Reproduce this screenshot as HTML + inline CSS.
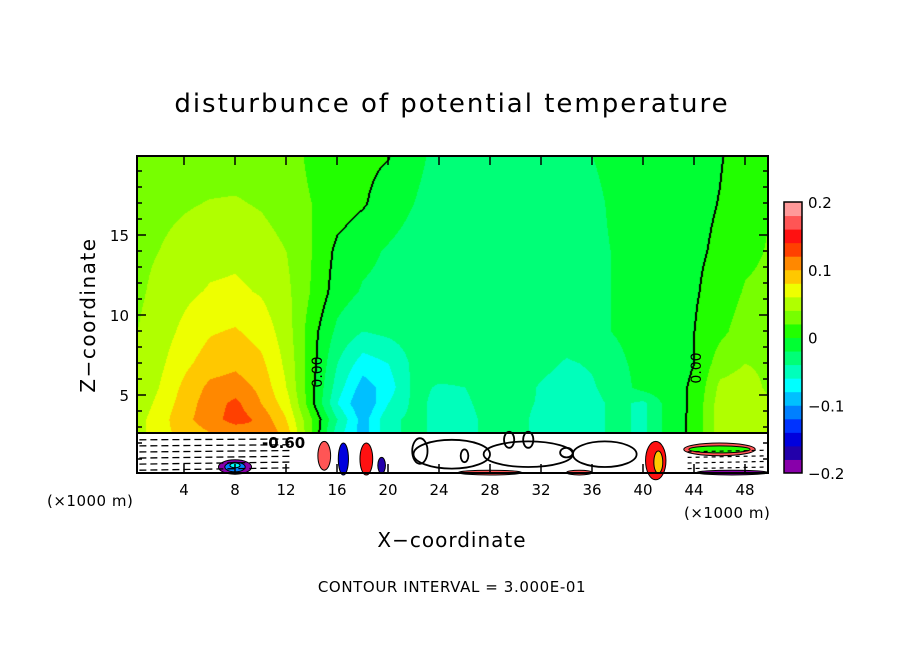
<!DOCTYPE html>
<html><head><meta charset="utf-8">
<style>
html,body{margin:0;padding:0;background:#fff;}
#wrap{position:relative;width:904px;height:654px;overflow:hidden;font-family:"DejaVu Sans","Liberation Sans",sans-serif;}
canvas{position:absolute;left:0;top:0;}
svg{position:absolute;left:0;top:0;}
</style></head>
<body>
<div id="wrap">
<canvas id="cv" width="904" height="654"></canvas>
<svg id="sv" width="904" height="654">
<text x="452" y="112" text-anchor="middle" font-size="26" letter-spacing="2">disturbunce of potential temperature</text>
<text x="452" y="547" text-anchor="middle" font-size="20" letter-spacing="1">X−coordinate</text>
<text transform="translate(95,315) rotate(-90)" text-anchor="middle" font-size="20" letter-spacing="1.5">Z−coordinate</text>
<text x="47" y="506" font-size="15" letter-spacing="0.5">(×1000 m)</text>
<text x="684" y="518" font-size="15" letter-spacing="0.5">(×1000 m)</text>
<text x="452" y="592" text-anchor="middle" font-size="15" letter-spacing="0.6">CONTOUR INTERVAL = 3.000E-01</text>
<g id="bottom"></g>
<g id="ticks"></g>
<g id="cbar"></g>
<text transform="translate(322,372) rotate(-90)" font-size="14" text-anchor="middle">0.00</text>
<text transform="translate(701,368) rotate(-90)" font-size="14" text-anchor="middle">0.00</text>
<text x="262" y="448" font-size="15" font-weight="bold">-0.60</text>
<rect x="137" y="156" width="631" height="317" fill="none" stroke="#000" stroke-width="2"></rect>
</svg>
</div>
<script>
// ---- data ----
const xCols = [0,2,4,6,8,10,12,14,16,18,20,22,24,26,28,30,32,34,36,38,40,42,44,46,48,50];
const zRows = [2.7,3.5,4.5,5.5,7,9,11.5,14,17,20];
const row_z2_7 = [.05,.07,.09,.10,.105,.12,.09,.02,-.05,-.09,-.045,-.035,-.045,-.045,-.035,-.035,-.045,-.055,-.045,-.035,-.045,-.01,.005,.05,.06,.045];
const row_z3_5 = [.05,.07,.095,.11,.13,.115,.08,.02,-.04,-.09,-.045,-.035,-.045,-.045,-.035,-.035,-.045,-.055,-.045,-.035,-.045,-.01,.005,.05,.06,.045];
const row_z4_5 = [.045,.065,.09,.11,.125,.10,.07,.005,-.06,-.10,-.06,-.035,-.045,-.042,-.035,-.035,-.042,-.05,-.045,-.035,-.045,-.01,.004,.05,.06,.04];
const row_z5_5 = [.04,.06,.085,.105,.11,.095,.06,.005,-.05,-.09,-.07,-.035,-.042,-.04,-.035,-.032,-.042,-.048,-.042,-.03,-.012,-.005,.002,.045,.05,.035];
const row_z7 = [.04,.055,.075,.09,.095,.085,.055,.008,-.04,-.07,-.06,-.035,-.03,-.032,-.03,-.03,-.035,-.042,-.038,-.025,-.012,-.005,.0,.03,.04,.035];
const row_z9 = [.038,.05,.065,.078,.082,.072,.05,.008,-.025,-.04,-.035,-.03,-.03,-.03,-.03,-.03,-.03,-.03,-.025,-.018,-.01,-.005,.0,.015,.03,.03];
const row_z11_5 = [.035,.045,.055,.062,.064,.058,.045,.018,-.01,-.022,-.025,-.028,-.03,-.03,-.03,-.03,-.03,-.03,-.025,-.018,-.01,-.006,-.002,.008,.022,.025];
const row_z14 = [.035,.04,.047,.053,.055,.05,.04,.02,-.005,-.015,-.022,-.028,-.03,-.03,-.03,-.03,-.03,-.03,-.025,-.018,-.01,-.006,-.003,.003,.015,.022];
const row_z17 = [.03,.035,.038,.041,.042,.038,.03,.02,.01,.002,-.01,-.02,-.028,-.03,-.03,-.03,-.03,-.03,-.025,-.015,-.01,-.006,-.004,.0005,.01,.02];
const row_z20 = [.03,.03,.03,.03,.03,.03,.03,.015,.01,.005,.001,-.015,-.025,-.03,-.03,-.03,-.03,-.025,-.02,-.012,-.008,-.006,-.004,-.001,.006,.015];
const field = [row_z2_7,row_z3_5,row_z4_5,row_z5_5,row_z7,row_z9,row_z11_5,row_z14,row_z17,row_z20];
const levelColors = ["#8800aa","#2200aa","#0000dd","#0033ff","#0080ff","#00c0ff","#00ffff","#00ffbb","#00ff77","#00ff33","#22ff00","#77ff00","#b0ff00","#eeff00","#ffc800","#ff8800","#ff4000","#ff1111","#ff5555","#ff9999"];
const cbarTicks = [0.2,0.1,0,-0.1,-0.2];
const cbarTickLabels = ["0.2","0.1","0","−0.1","−0.2"];
const xTicks = [4,8,12,16,20,24,28,32,36,40,44,48];
const zTicks = [5,10,15];
// near-surface features [x, z, rx, rz, value]
const surfBlobs = [[8,0.5,1.3,0.45,-0.19],[8,0.5,0.8,0.3,-0.12],[8,0.6,0.4,0.15,-0.07],[15,1.2,0.5,0.9,0.16],[16.5,1,0.4,1.0,-0.15],[18.3,1,0.5,1.0,0.14],[19.5,0.6,0.3,0.5,-0.17],[41,0.9,0.8,1.2,0.15],[41.2,0.8,0.35,0.7,0.08],[46,1.6,2.8,0.4,0.17],[46,1.6,2.4,0.22,0],[47,0.15,2.8,0.15,-0.19],[28,0.15,2.5,0.15,0.17],[35,0.15,1.0,0.15,0.17]];

// ---- axes ----
const X0=133, XS=12.75, Y0=475, ZS=16;
const PL=137, PR=768, PT=156, PB=473, ZB=2.6;
const sx = x => X0 + x*XS;
const sz = z => Y0 - z*ZS;
const ix = px => (px - X0)/XS;
const iz = py => (Y0 - py)/ZS;
const cb = v => 473 - (v+0.2)/0.4*271;

function sample(x,z){
  let i=0; while(i<xCols.length-2 && x>xCols[i+1]) i++;
  let j=0; while(j<zRows.length-2 && z>zRows[j+1]) j++;
  let tx=(x-xCols[i])/(xCols[i+1]-xCols[i]); tx=Math.max(0,Math.min(1,tx));
  let tz=(z-zRows[j])/(zRows[j+1]-zRows[j]); tz=Math.max(0,Math.min(1,tz));
  const a=field[j][i], b=field[j][i+1], c=field[j+1][i], d=field[j+1][i+1];
  return (a*(1-tx)+b*tx)*(1-tz)+(c*(1-tx)+d*tx)*tz;
}
function lvl(v){return Math.max(0,Math.min(19,Math.floor((v+0.2)/0.02)));}

const ctx=document.getElementById('cv').getContext('2d');
const ybound = Math.round(sz(ZB));
const W=PR-PL, H=ybound-PT;
const vals=new Float32Array(W*H);
for(let py=0;py<H;py++)for(let px=0;px<W;px++){vals[py*W+px]=sample(ix(PL+px),iz(PT+py));}
const img=ctx.createImageData(W,H);
for(let k=0;k<W*H;k++){
  let v=vals[k];
  let col=levelColors[lvl(v)];
  const px=k%W, py=Math.floor(k/W);
  const s=v>=0;
  let black=false;
  if(px<W-1 && s!==(vals[k+1]>=0)) black=true;
  if(px>0 && s!==(vals[k-1]>=0)) black=true;
  if(py<H-1 && s!==(vals[k+W]>=0)) black=true;
  if(py>0 && s!==(vals[k-W]>=0)) black=true;
  let r,g,b;
  if(black){r=g=b=0;}else{r=parseInt(col.substr(1,2),16);g=parseInt(col.substr(3,2),16);b=parseInt(col.substr(5,2),16);}
  img.data[k*4]=r;img.data[k*4+1]=g;img.data[k*4+2]=b;img.data[k*4+3]=255;
}
ctx.putImageData(img,PL,PT);

const NS="http://www.w3.org/2000/svg";
function mk(tag,attrs,parent){const e=document.createElementNS(NS,tag);for(const k in attrs)e.setAttribute(k,attrs[k]);parent.appendChild(e);return e;}

// near-surface region
const bottom=document.getElementById('bottom');
const bg=mk('rect',{x:PL,y:ybound,width:W,height:PB-ybound,fill:'#fff'},bottom);


surfBlobs.forEach(bl=>{
  const e=mk('ellipse',{cx:sx(bl[0]),cy:sz(bl[1]),rx:bl[2]*XS,ry:bl[3]*ZS,fill:levelColors[lvl(bl[4])],stroke:'#000','stroke-width':1},bottom);
  
  
});
for(let k=0;k<6;k++){
  const e=mk('line',{x1:sx(0.5),y1:sz(0.3+k*0.38),x2:sx(12.5),y2:sz(0.45+k*0.36),stroke:'#000','stroke-width':1.3,'stroke-dasharray':'7,4'},bottom);
  
  
}
for(let k=0;k<4;k++){
  const e=mk('line',{x1:sx(43.5),y1:sz(0.4+k*0.35),x2:sx(49.8),y2:sz(0.5+k*0.35),stroke:'#000','stroke-width':1.2,'stroke-dasharray':'4,4'},bottom);
  
  
}
[[25,1.3,3,0.9],[31,1.3,3.5,0.8],[37,1.3,2.5,0.8],[26,1.2,0.3,0.4],[34,1.4,0.5,0.3],[22.5,1.5,0.6,0.8],[29.5,2.2,0.4,0.5],[31,2.2,0.4,0.5]].forEach(c=>{
  const e=mk('ellipse',{cx:sx(c[0]),cy:sz(c[1]),rx:c[2]*XS,ry:c[3]*ZS,fill:'none',stroke:'#000','stroke-width':1.8},bottom);
  
  
});
const sl=mk('line',{x1:PL,y1:ybound,x2:PR,y2:ybound,stroke:'#000','stroke-width':2},bottom);



// ticks
const tg=document.getElementById('ticks');
xTicks.forEach((t,i)=>{
  mk('line',{x1:sx(t),y1:PB,x2:sx(t),y2:PB-9,stroke:'#000','stroke-width':1.5},tg);
  mk('line',{x1:sx(t),y1:PT,x2:sx(t),y2:PT+9,stroke:'#000','stroke-width':1.5},tg);
  const tx=mk('text',{x:sx(t),y:PB+22,'text-anchor':'middle','font-size':15},tg);
  tx.textContent=String(t);
  
  
});
for(let z=1;z<20;z++){
  const major=zTicks.indexOf(z)>=0;
  const L=major?9:5;
  mk('line',{x1:PL,y1:sz(z),x2:PL+L,y2:sz(z),stroke:'#000','stroke-width':1.5},tg);
  mk('line',{x1:PR,y1:sz(z),x2:PR-L,y2:sz(z),stroke:'#000','stroke-width':1.5},tg);
}
zTicks.forEach(t=>{
  const tx=mk('text',{x:PL-8,y:sz(t)+6,'text-anchor':'end','font-size':15},tg);
  tx.textContent=String(t);
  
  
});

// colorbar
const cg=document.getElementById('cbar');
levelColors.forEach((c,i)=>{
  const lo=-0.2+i*0.02;
  const r=mk('rect',{x:784,y:cb(lo+0.02),width:18,height:cb(lo)-cb(lo+0.02)+0.5,fill:c},cg);
  
  
});
mk('rect',{x:784,y:cb(0.2),width:18,height:cb(-0.2)-cb(0.2),fill:'none',stroke:'#000','stroke-width':1.5},cg);
cbarTicks.forEach((t,i)=>{
  const tx=mk('text',{x:808,y:cb(t)+6,'font-size':15},cg);
  tx.textContent=cbarTickLabels[i];
  
  
});
</script>
</body></html>
